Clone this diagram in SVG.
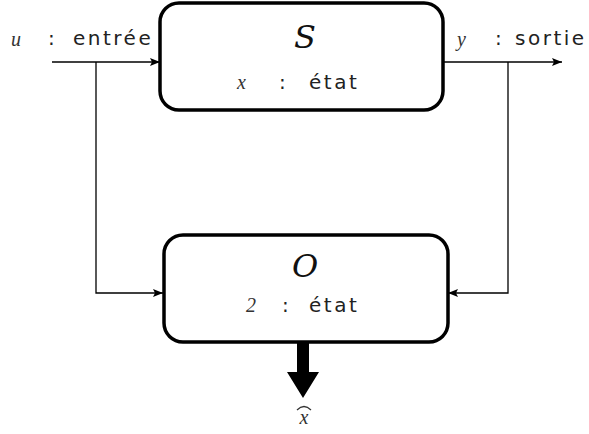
<svg xmlns="http://www.w3.org/2000/svg" width="589" height="434" viewBox="0 0 589 434">
<defs>
<style>
.box{fill:#fff;stroke:#000;stroke-width:3.5}
.ln{fill:none;stroke:#000;stroke-width:1.3}
.t{font-family:"DejaVu Sans",sans-serif;font-size:20px;fill:#222;letter-spacing:2.5px}
.m{font-family:"Liberation Serif",serif;font-style:italic;font-size:20px;fill:#333}
.cal{font-family:"DejaVu Serif",serif;font-style:italic;font-size:32px;fill:#111}
</style>
<marker id="ah" markerWidth="10" markerHeight="8" refX="10" refY="4" orient="auto" markerUnits="userSpaceOnUse">
<path d="M0,0 L10,4 L0,8 L2,4 Z" fill="#000"/>
</marker>
</defs>
<rect width="589" height="434" fill="#fff"/>
<g id="connectors">
<line class="ln" x1="52" y1="62" x2="160" y2="62" marker-end="url(#ah)"/>
<polyline class="ln" points="96,62 96,293 163,293" marker-end="url(#ah)"/>
<line class="ln" x1="443" y1="62" x2="562" y2="62" marker-end="url(#ah)"/>
<polyline class="ln" points="508,62 508,293 448,293" marker-end="url(#ah)"/>
<path d="M297,343 L309,343 L309,372 L319,372 L303,398 L287,372 L297,372 Z" fill="#000"/>
</g>
<g id="input-label">
<text class="m" x="11" y="46">u</text>
<text class="t" x="48" y="45">:</text>
<text class="t" x="73" y="45" letter-spacing="2">entrée</text>
</g>
<g id="output-label">
<text class="m" x="457" y="46">y</text>
<text class="t" x="495" y="45">:</text>
<text class="t" x="515" y="45" letter-spacing="3">sortie</text>
</g>
<g id="S">
<rect class="box" x="160" y="3" width="283" height="107" rx="19"/>
<text class="cal" x="305" y="48" text-anchor="middle">S</text>
<text class="m" x="237" y="89">x</text>
<text class="t" x="279" y="89">:</text>
<text class="t" x="309" y="89" letter-spacing="3.5">état</text>
</g>
<g id="O">
<rect class="box" x="164" y="235" width="284" height="107" rx="19"/>
<text class="cal" x="305" y="277" text-anchor="middle">O</text>
<text class="m" x="246" y="312" font-size="13">2</text>
<text class="t" x="282" y="312">:</text>
<text class="t" x="309" y="312" letter-spacing="3.5">état</text>
</g>
<g id="xhat">
<text class="m" x="304" y="424" text-anchor="middle">x</text>
<path d="M297,410 Q304,403 311,410" fill="none" stroke="#333" stroke-width="1.2"/>
</g>
</svg>
